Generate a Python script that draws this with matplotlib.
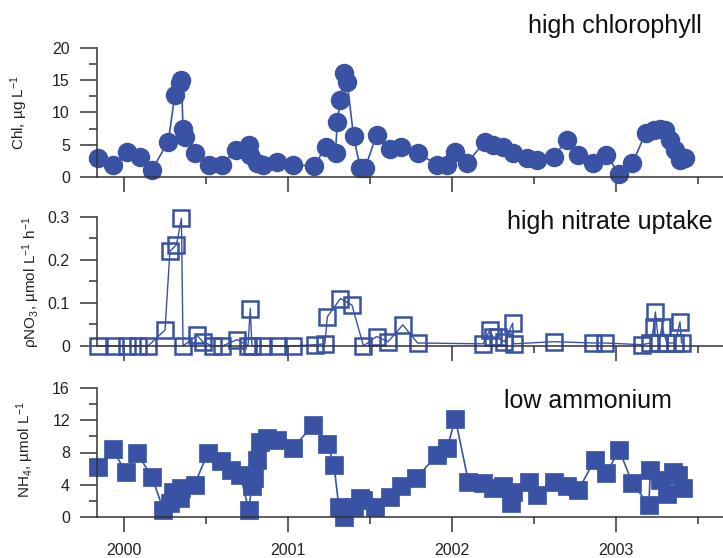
import matplotlib
matplotlib.use('Agg')
import matplotlib.pyplot as plt
from matplotlib.ticker import MultipleLocator, FixedLocator

plt.rcParams['font.family'] = ['Liberation Sans', 'DejaVu Sans']
plt.rcParams['mathtext.default'] = 'regular'

# ============ data (decimal year) ============
chl_t = [1999.84, 1999.93, 2000.02, 2000.10, 2000.17, 2000.27, 2000.31, 2000.34, 2000.35,
         2000.36, 2000.37, 2000.43, 2000.52, 2000.60, 2000.68, 2000.76, 2000.77, 2000.81,
         2000.85, 2000.93, 2001.03, 2001.16, 2001.23, 2001.29, 2001.30, 2001.32, 2001.34,
         2001.36, 2001.40, 2001.44, 2001.47, 2001.54, 2001.62, 2001.69, 2001.79, 2001.91,
         2001.97, 2002.02, 2002.09, 2002.20, 2002.25, 2002.31, 2002.37, 2002.46, 2002.52,
         2002.62, 2002.70, 2002.77, 2002.86, 2002.94, 2003.02, 2003.10, 2003.18, 2003.23,
         2003.27, 2003.30, 2003.33, 2003.36, 2003.39, 2003.42]
chl_v = [2.9, 1.9, 3.8, 3.1, 1.1, 5.5, 12.7, 14.5, 15.0,
         7.5, 6.2, 3.7, 1.9, 1.9, 4.2, 5.0, 3.4, 2.1,
         1.9, 2.4, 1.9, 1.7, 4.7, 3.7, 8.6, 11.9, 16.1,
         14.8, 6.3, 1.4, 1.4, 6.5, 4.4, 4.7, 3.7, 1.9,
         1.9, 3.9, 2.1, 5.5, 5.0, 4.7, 3.7, 2.9, 2.6,
         3.1, 5.8, 3.4, 2.1, 3.4, 0.5, 2.1, 6.8, 7.3,
         7.5, 7.3, 5.7, 4.2, 2.6, 2.9]

no3_t = [1999.84, 1999.945, 2000.02, 2000.085, 2000.146, 2000.25, 2000.28, 2000.32, 2000.35,
         2000.36, 2000.445, 2000.48, 2000.54, 2000.60, 2000.69, 2000.756, 2000.77, 2000.78,
         2000.85, 2000.94, 2001.03, 2001.165, 2001.225, 2001.24, 2001.32, 2001.39, 2001.46,
         2001.54, 2001.61, 2001.70, 2001.79, 2002.19, 2002.23, 2002.25, 2002.28, 2002.32,
         2002.37, 2002.375, 2002.62, 2002.86, 2002.93, 2003.16, 2003.21, 2003.23, 2003.24,
         2003.26, 2003.28, 2003.31, 2003.36, 2003.39, 2003.40]
no3_v = [0.0, 0.0, 0.0, 0.0, 0.0, 0.037, 0.22, 0.235, 0.296,
         0.0, 0.025, 0.01, 0.0, 0.0, 0.015, 0.0, 0.087, 0.0,
         0.0, 0.0, 0.0, 0.003, 0.005, 0.068, 0.11, 0.095, 0.0,
         0.022, 0.01, 0.049, 0.007, 0.005, 0.037, 0.021, 0.02, 0.01,
         0.053, 0.005, 0.01, 0.007, 0.007, 0.003, 0.007, 0.044, 0.079,
         0.007, 0.044, 0.007, 0.007, 0.056, 0.007]

nh4_t = [1999.84, 1999.93, 2000.01, 2000.08, 2000.17, 2000.24, 2000.28, 2000.30, 2000.34,
         2000.35, 2000.43, 2000.51, 2000.59, 2000.65, 2000.71, 2000.76, 2000.78, 2000.79,
         2000.81, 2000.83, 2000.87, 2000.93, 2001.03, 2001.15, 2001.24, 2001.28, 2001.31,
         2001.34, 2001.40, 2001.44, 2001.46, 2001.53, 2001.62, 2001.69, 2001.78, 2001.91,
         2001.97, 2002.02, 2002.10, 2002.19, 2002.25, 2002.31, 2002.36, 2002.37, 2002.47,
         2002.52, 2002.62, 2002.70, 2002.77, 2002.87, 2002.94, 2003.02, 2003.10, 2003.20,
         2003.21, 2003.27, 2003.31, 2003.35, 2003.38, 2003.41]
nh4_v = [6.2, 8.4, 5.6, 7.9, 5.0, 0.9, 1.7, 3.1, 2.3,
         3.6, 4.0, 7.9, 6.9, 5.8, 5.2, 0.9, 3.8, 4.8,
         7.1, 9.3, 9.8, 9.6, 8.5, 11.4, 9.1, 6.5, 1.3,
         0.0, 1.3, 2.3, 2.1, 1.3, 2.5, 3.8, 4.8, 7.7,
         8.5, 12.2, 4.4, 4.2, 3.6, 3.8, 1.7, 3.1, 4.4,
         2.7, 4.4, 3.8, 3.3, 7.1, 5.4, 8.3, 4.2, 1.5,
         5.8, 4.6, 2.9, 5.6, 5.2, 3.6]

year_ticks = [2000, 2001, 2002, 2003]
year_labels = ['2000', '2001', '2002', '2003']

BLUE = '#3A52A3'
DARK = '#333333'

fig = plt.figure(figsize=(7.23, 5.58), dpi=100)
W, H = 723.0, 558.0

def make_axes(top_px, bot_px):
    return fig.add_axes([97 / W, 1 - bot_px / H, (W - 97) / W, (bot_px - top_px) / H])

ax1 = make_axes(48, 177)
ax2 = make_axes(216.7, 346)
ax3 = make_axes(388, 517)

ax1.plot(chl_t, chl_v, '-o', color=BLUE, lw=1.2, ms=13, mec=BLUE, mfc=BLUE, clip_on=False)
ax2.plot(no3_t, no3_v, '-s', color=BLUE, lw=1.0, ms=12, mew=1.8, mec=BLUE, mfc='none', clip_on=False)
ax3.plot(nh4_t, nh4_v, '-s', color=BLUE, lw=1.2, ms=13, mec=BLUE, mfc=BLUE, mew=0.5, clip_on=False)

ax1.set_ylim(0, 20)
ax1.yaxis.set_major_locator(MultipleLocator(5))
ax1.yaxis.set_minor_locator(MultipleLocator(2.5))
ax2.set_ylim(0, 0.3)
ax2.yaxis.set_major_locator(FixedLocator([0, 0.1, 0.2, 0.3]))
ax2.yaxis.set_minor_locator(FixedLocator([0.05, 0.15, 0.25]))
ax2.set_yticklabels(['0', '0.1', '0.2', '0.3'])
ax3.set_ylim(0, 16)
ax3.yaxis.set_major_locator(MultipleLocator(4))
ax3.yaxis.set_minor_locator(MultipleLocator(2))

for ax in (ax1, ax2, ax3):
    ax.set_xlim(2000 - 27 / 164, 2000 + 599 / 164)
    ax.xaxis.set_major_locator(FixedLocator(year_ticks))
    ax.xaxis.set_minor_locator(FixedLocator([2000.5, 2001.5, 2002.5, 2003.5]))
    for s in ('top', 'right'):
        ax.spines[s].set_visible(False)
    for s in ('left', 'bottom'):
        ax.spines[s].set_color(DARK)
        ax.spines[s].set_linewidth(1.1)
    ax.tick_params(axis='y', which='major', length=12.5, width=1.1, color=DARK,
                   labelsize=11.5, labelcolor='#222222', pad=7)
    ax.tick_params(axis='y', which='minor', length=5.5, width=1.1, color=DARK)
    ax.tick_params(axis='x', which='major', length=11, width=1.1, color=DARK,
                   labelsize=11.5, labelcolor='#222222', pad=8)
    ax.tick_params(axis='x', which='minor', length=5, width=1.1, color=DARK)
    ax.set_zorder(1)

ax1.set_xticklabels([])
ax2.set_xticklabels([])
ax3.set_xticklabels(year_labels)

fig.text(19 / W, 1 - 112 / H, 'Chl, µg L$^{-1}$', rotation=90, ha='center', va='center',
         fontsize=11, color='#222222')
fig.text(31 / W, 1 - 282 / H, 'ρNO$_3$, µmol L$^{-1}$ h$^{-1}$', rotation=90, ha='center',
         va='center', fontsize=11, color='#222222')
fig.text(25 / W, 1 - 450 / H, 'NH$_4$, µmol L$^{-1}$', rotation=90, ha='center', va='center',
         fontsize=11, color='#222222')

fig.text(702 / W, 1 - 33 / H, 'high chlorophyll', ha='right', va='baseline', fontsize=18, color='#111111')
fig.text(713 / W, 1 - 229 / H, 'high nitrate uptake', ha='right', va='baseline', fontsize=18, color='#111111')
fig.text(672 / W, 1 - 408 / H, 'low ammonium', ha='right', va='baseline', fontsize=18, color='#111111')

fig.savefig('out.png', dpi=100)
